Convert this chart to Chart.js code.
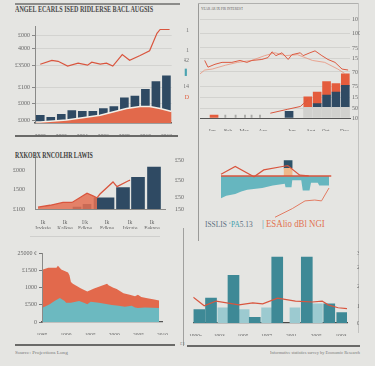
<!DOCTYPE html>
<html lang="en">
<head>
  <meta charset="UTF-8" />
  <meta name="viewport" content="width=device-width, initial-scale=1.0" />
  <title>Economic Overview</title>
  <script src="https://cdn.jsdelivr.net/npm/chart.js"></script>
  <style>
    body { margin: 0; background: #e5e5e2; }
    .page { position: relative; width: 375px; height: 366px; overflow: hidden; font-family: 'Liberation Serif', serif; }
    .box { position: absolute; }
    .ln { position: absolute; }
    .txt { position: absolute; white-space: nowrap; display: inline-block; transform-origin: 0 0; line-height: 1; }
  </style>
</head>
<body>
<div class="page">
  <!-- rules and frames -->
  <div class="ln" style="left:15px;top:3px;width:165px;height:1.5px;background:#8c8c8a"></div>
  <div class="ln" style="left:15px;top:135px;width:163px;height:1.5px;background:#6a6a68"></div>
  <div class="ln" style="left:198px;top:3px;width:1px;height:238px;background:#9a9a98"></div>
  <div class="ln" style="left:198px;top:3px;width:160px;height:1px;background:#b0b0ae"></div>
  <div class="ln" style="left:358px;top:3px;width:1px;height:330px;background:#c2c2c0"></div>
  <div class="ln" style="left:30px;top:236px;width:130px;height:1px;background:#cfcfcd"></div>
  <div class="ln" style="left:183px;top:228px;width:1px;height:118px;background:#a0a09e"></div>
  <div class="ln" style="left:15px;top:344px;width:160px;height:1.5px;background:#6a6a68"></div>
  <div class="ln" style="left:187px;top:345px;width:173px;height:1.5px;background:#6a6a68"></div>

  <!-- titles and captions -->
  <div class="txt" data-w="138" style="left:15px;top:6px;font-weight:bold;font-size:8px;color:#4b4b4b">ANGEL ECARLS ISED RIDLERSE BACL AUGSIS</div>
  <div class="txt" data-w="42" style="left:201px;top:6px;font-size:5px;color:#666">YEAR AR IX PIR INTEREST</div>
  <div class="txt" data-w="78" style="left:15px;top:152px;font-weight:bold;font-size:8px;color:#3e3e3e">RXKOBX RNCOLHR LAWIS</div>
  <div class="txt" data-w="48" style="left:205px;top:221px;font-size:8px;color:#5b6e80">ISSLIS <span style="color:#3fa0ad">‘PA</span>5.13</div>
  <div class="txt" data-w="63" style="left:262px;top:219px;font-size:10.5px;color:#e2714f"><span style="color:#3f98a6">|</span> ESAlio dBl NGI</div>
  <div class="txt" data-w="53" style="left:15px;top:350px;font-size:5px;color:#777">Source: Projections Long</div>
  <div class="txt" data-w="90" style="left:270px;top:350px;font-size:5px;color:#777">Informative statistics survey by Economic Research</div>
  <div class="txt" style="left:180px;top:341px;font-size:5px;color:#777">£1</div>

  <div class="box" style="left:12px;top:21px;width:162px;height:115px"><canvas id="c1"></canvas></div>
  <div class="box" style="left:184px;top:3px;width:176px;height:128px"><canvas id="c2"></canvas></div>
  <div class="box" style="left:12px;top:153px;width:173px;height:76px"><canvas id="c3"></canvas></div>
  <div class="box" style="left:192px;top:148px;width:168px;height:80px"><canvas id="c4"></canvas></div>
  <div class="box" style="left:12px;top:248px;width:158px;height:87px"><canvas id="c5"></canvas></div>
  <div class="box" style="left:187px;top:243px;width:172px;height:93px"><canvas id="c6"></canvas></div>
</div>

<script>
  // ---- panel 1: yearly bars, share area, index line
  const p1Years = [2000, 2001, 2002, 2003, 2004, 2005, 2006, 2007, 2008, 2009, 2010, 2011, 2012];
  const p1Bars = [8, 6, 9, 13, 12, 12, 15, 17, 26, 28, 35, 43, 49];
  const p1ShareX = [1999.6, 2000, 2002.5, 2005.7, 2008.2, 2009.5, 2010.4, 2011.4, 2012.5];
  const p1Share = [1, 1, 3, 8, 15, 17, 17, 15, 12];
  const p1IndexX = [2000, 2001.1, 2001.7, 2002.6, 2003.6, 2004.5, 2004.9, 2005.7, 2006.3, 2006.9, 2007.8, 2008.5, 2009.5, 2010.4, 2011.1, 2011.4, 2012.3];
  const p1Index = [61, 65, 64, 59, 62, 60, 63, 61, 62, 59, 71, 65, 70, 75, 93, 97, 97];
  const p1XTicks = [2000, 2002, 2004, 2006, 2008, 2010, 2012];
  const p1XText = ['2000', '2002', '2004', '2006', '2008', '2010', '2012'];
  const p1YTicks = [3, 20, 37, 60, 77, 91];
  const p1YText = ['£000', '£000', '£100', '£3500', '4000', '£000'];

  // ---- panel 2: stacked bars by period, two rate lines
  const p2GrayX = [11, 12, 13, 14, 15];
  const p2Gray = [11, 11, 11, 11, 11];
  const p2MarkX = [2.2, 3.3, 4.3, 5, 5.9];
  const p2Mark = [3, 3, 3, 3, 3];
  const p2NavyX = [9, 12, 13, 14, 15];
  const p2Navy = [7, 4, 13, 16, 23];
  const p2OrangeX = [1, 11, 12, 13, 14, 15];
  const p2Orange = [3, 11, 12, 14, 9, 12];
  const p2RateAX = [0, 0.35, 1.1, 1.85, 2.9, 3.77, 4.5, 5.05, 6.1, 6.75, 7.18, 7.6, 8.25, 8.9, 9.3, 10.2, 10.5, 11.23, 11.77, 12.5, 13.15, 13.9, 14.65, 15.3];
  const p2RateA = [60, 53, 56, 58, 58, 60, 58, 60, 61, 63, 69, 65, 68, 61, 66, 68, 65, 68, 70, 65, 61, 58, 51, 50];
  const p2RateBX = [-0.5, 0, 0.8, 2.2, 3.5, 5, 6.4, 7.5, 8.6, 9.9, 11.5, 12.8, 14.2, 15];
  const p2RateB = [46, 50, 51, 55, 58, 60, 65, 68, 65, 66, 60, 58, 51, 46];
  const p2TrendX = [7, 8.8, 10.2, 11];
  const p2Trend = [5, 9, 12, 19];
  const p2XTicks = [0.8, 2.5, 4.2, 6.2, 9.3, 11.3, 12.9, 14.9];
  const p2XText = ['Jan', 'Feb', 'Mar', 'Apr', 'Jun', 'Aug', 'Oct', 'Dec'];
  const p2YTicks = [0, 10, 21, 33, 48, 62, 73, 88, 103];
  const p2YText = ['10', '50', '15', '75', '70', '15', '75', '100', '10'];
  const p2LeftTicks = [21, 33, 48, 60, 70, 91];
  const p2LeftText = ['D', '14', '▌', '42', '1', '1'];

  // ---- panel 3: growth bars and red trend
  const p3BarX = [8.4, 10.4, 13.8, 17.6, 20.6, 23.8];
  const p3Bars = [2, 5, 12, 23, 34, 45];
  const p3TrendX = [0.6, 3, 5.6, 7.4, 10.4, 11.6, 12.4, 13, 15.6, 16.4, 18.6, 19];
  const p3Trend = [2, 4, 7, 7, 17, 14, 12, 16, 29, 24, 30, 31];
  const p3XTicks = [1.6, 6, 10, 14.4, 19, 23.4];
  const p3XText = [['Ik', 'Iryksje'], ['Ik', 'Kalkse'], ['I/k', 'Edkpe'], ['Ik', 'Edkue'], ['Ik', 'Irkrate'], ['Ik', 'Fekpre']];
  const p3YTicks = [0, 21, 41];
  const p3YText = ['£100', '1500', '£000'];
  const p3RTicks = [0, 12, 31, 52];
  const p3RText = ['150', '£50', '£50', '£50'];

  // ---- panel 4: balance around zero
  const p4BalanceX = [0.6, 2, 4.4, 6, 7.6, 11.6, 14.4, 17.6, 17.8, 19.4, 19.6, 22, 22.4, 24.2, 24.6, 26.4, 26.8, 29.4];
  const p4Balance = [-26, -23, -21, -18, -16, -14, -11, -9, -13, -13, -5, -5, -17, -17, -8, -8, -11, -11];
  const p4UpperX = [0.6, 4.4, 9.4, 12, 17, 18.4, 21.6, 24];
  const p4Upper = [2, 11, -1, 7, 11, 12, 1, 0];
  const p4LowerX = [15, 19.6, 23, 25.6, 27.4, 29.4];
  const p4Lower = [-48, -38, -29, -28, -29, -14];
  const p4PeakX = [18.5];
  const p4PeakLow = [9];
  const p4PeakHigh = [9];
  const p4RTicks = [-19, 0, 17];
  const p4RText = ['15', '20', '10'];
  const p4LTicks = [-37, -20, 1];
  const p4LText = ['1', '1', '1'];

  // ---- panel 5: total and base areas by year
  const p5TotalX = [1985.2, 1986.3, 1988, 1988.3, 1989, 1990.4, 1990.7, 1991, 1991.4, 1993.1, 1994.4, 1995.8, 1996.8, 1998.5, 1998.8, 1999.8, 2000.5, 2001.9, 2003.2, 2004.3, 2004.9, 2005.6, 2006.6, 2008.3, 2009.3];
  const p5Total = [1536, 1583, 1583, 1647, 1536, 1444, 1370, 1167, 1119, 981, 889, 981, 1028, 1119, 1075, 1000, 964, 842, 797, 750, 797, 731, 703, 658, 631];
  const p5BaseX = [1985.2, 1986.6, 1987.6, 1988.7, 1989.7, 1990, 1991, 1992.7, 1993.7, 1994.4, 1995.1, 1996.8, 1999.5, 2000.9, 2002.2, 2003.6, 2004.3, 2004.9, 2006.3, 2009.3];
  const p5Base = [425, 519, 611, 703, 611, 564, 564, 611, 564, 519, 592, 564, 500, 472, 444, 472, 425, 408, 425, 408];
  const p5XTicks = [1985, 1990, 1995, 2000, 2005, 2010];
  const p5XText = ['1985', '1990', '1995', '2000', '2005', '2010'];
  const p5YTicks = [0, 500, 1000, 1500, 2000];
  const p5YText = ['0', '£500', '1000', '£1500', '25000 ¢'];

  // ---- panel 6: dark and light bars, red average
  const p6DarkX = [0, 1, 2.9, 4.7, 6.6, 9.1, 11, 12.1];
  const p6Dark = [14, 26, 50, 6, 69, 69, 20, 11];
  const p6LightX = [2, 3.8, 5.7, 8.1, 10];
  const p6Light = [16, 14, 16, 16, 20];
  const p6AvgX = [-0.5, 0.42, 1.43, 3.36, 4.53, 5.37, 6.63, 8.14, 9.57, 10.4, 10.9, 11.75, 12.5];
  const p6Avg = [27, 18, 23, 19, 21, 20, 26, 23, 22, 23, 19, 16, 15];
  const p6XTicks = [-0.3, 1.7, 3.7, 5.7, 7.8, 9.9, 12];
  const p6XText = ['1990s', '1993', '1995', '1997', '2001', '2005', '1993'];
  const p6YTicks = [0, 17, 38, 58, 73];
  const p6YText = ['00', '10', '20', '25', '30'];

  const navy = '#2f4a63', red = '#d9553e', orange = '#e2694b', teal = '#66b6bf';

  Chart.defaults.font.family = "'Liberation Serif', serif";
  Chart.defaults.font.size = 6;
  Chart.defaults.color = '#666';

  const pts = (xs, ys) => xs.map((x, i) => ({ x: x, y: ys[i] }));

  function xAxis(min, max, pos, text, h, extra) {
    return Object.assign({
      type: 'linear', min: min, max: max, offset: false, bounds: 'data',
      grid: { display: false, offset: false },
      border: { display: true, color: '#6e6e6c' },
      afterBuildTicks: s => { s.ticks = pos.map(v => ({ value: v })); },
      afterFit: s => { s.height = h; },
      ticks: { callback: (v, i) => text[i], autoSkip: false, maxRotation: 0, minRotation: 0, padding: 2, font: { size: 5.5 } }
    }, extra || {});
  }

  function yAxis(min, max, pos, text, w, extra) {
    return Object.assign({
      type: 'linear', min: min, max: max, bounds: 'data', stacked: true,
      grid: { display: false },
      border: { display: false },
      afterBuildTicks: s => { s.ticks = pos.map(v => ({ value: v })); },
      afterFit: s => { s.width = w; },
      ticks: { callback: (v, i) => text[i], autoSkip: false, padding: 2 }
    }, extra || {});
  }

  function hidden(min, max) {
    return { type: 'linear', display: false, min: min, max: max, bounds: 'data' };
  }

  // lower order sits lower in a stack and is drawn later
  function bars(data, color, thick, order) {
    return { type: 'bar', data: data, backgroundColor: color, barThickness: thick, stack: 's', order: order };
  }

  function line(data, color, width, order, more) {
    return Object.assign({
      type: 'line', data: data, yAxisID: 'yl', borderColor: color, borderWidth: width,
      pointRadius: 0, fill: false, tension: 0, order: order
    }, more || {});
  }

  function make(id, datasets, scales, pad) {
    return new Chart(document.getElementById(id), {
      type: 'bar',
      data: { datasets: datasets },
      options: {
        responsive: true, maintainAspectRatio: false, animation: false,
        layout: { padding: pad },
        plugins: { legend: { display: false }, tooltip: { enabled: false } },
        scales: scales
      }
    });
  }

  // Panel 1
  make('c1', [
    bars(pts(p1Years, p1Bars), navy, 8, 3),
    line(pts(p1ShareX, p1Share), '#f4f0e8', 1.5, 2, { fill: 'origin', backgroundColor: orange }),
    line(pts(p1IndexX, p1Index), red, 1.2, 1)
  ], {
    x: xAxis(1999.5, 2012.5, p1XTicks, p1XText, 13, { border: { display: true, color: '#555', width: 1.5 } }),
    y: yAxis(0, 100, p1YTicks, p1YText, 23, {
      grid: { display: true, color: '#d3d3d0', tickLength: 3, tickColor: '#888' },
      border: { display: true, color: '#8a8a88' }
    }),
    yl: hidden(0, 100)
  }, { top: 2, right: 2, left: 0, bottom: 0 });

  // Panel 2
  const p2LeftColors = ['#e0603f', '#777', '#4aa3b0', '#777', '#777', '#777'];
  make('c2', [
    bars(pts(p2GrayX, p2Gray), '#d1d1ce', 8.5, 3),
    bars(pts(p2MarkX, p2Mark), '#a9a9a6', 1.2, 3),
    bars(pts(p2NavyX, p2Navy), navy, 8, 4),
    bars(pts(p2OrangeX, p2Orange), '#e45c3d', 8, 5),
    line(pts(p2RateBX, p2RateB), '#e8937c', 0.8, 2),
    line(pts(p2RateAX, p2RateA), '#dc5a41', 1, 1),
    line(pts(p2TrendX, p2Trend), '#d9573f', 1, 1)
  ], {
    x: xAxis(-0.5, 15.5, p2XTicks, p2XText, 13, { border: { display: true, color: '#555', width: 1 } }),
    y: yAxis(0, 113, p2YTicks, p2YText, 10, {
      position: 'right',
      grid: { display: true, color: '#d2d2cf', drawTicks: false }
    }),
    yleft: yAxis(0, 113, p2LeftTicks, p2LeftText, 16, {
      position: 'left', stacked: false,
      ticks: { callback: (v, i) => p2LeftText[i], color: c => p2LeftColors[c.index], autoSkip: false, padding: 3 }
    }),
    yl: hidden(0, 113)
  }, { top: 2, right: 0, left: 0, bottom: 0 });

  // Panel 3
  make('c3', [
    { type: 'bar', data: pts(p3BarX.slice(0, 2), p3Bars.slice(0, 2)), backgroundColor: navy, barThickness: 8, stack: 's', order: 3 },
    { type: 'bar', data: pts(p3BarX.slice(2, 3), p3Bars.slice(2, 3)), backgroundColor: navy, barThickness: 20, stack: 's', order: 3 },
    { type: 'bar', data: pts(p3BarX.slice(3), p3Bars.slice(3)), backgroundColor: navy, barThickness: 13, stack: 's', order: 3 },
    line(pts(p3TrendX.slice(0, 7), p3Trend.slice(0, 7)), 'rgba(0,0,0,0)', 0, 2, { fill: 'origin', backgroundColor: 'rgba(228,112,82,0.85)' }),
    line(pts(p3TrendX, p3Trend), red, 1.3, 1)
  ], {
    x: xAxis(0, 26, p3XTicks, p3XText, 20, { border: { display: true, color: '#8a8a88' } }),
    y: yAxis(0, 54, p3YTicks, p3YText, 23, { border: { display: true, color: '#8a8a88' } }),
    y2: yAxis(0, 54, p3RTicks, p3RText, 20, { position: 'right', stacked: false }),
    yl: hidden(0, 54)
  }, { top: 2, right: 0, left: 0, bottom: 0 });

  // Panel 4
  const p4RColors = ['#777', red, '#777'];
  make('c4', [
    line(pts(p4BalanceX, p4Balance), 'rgba(0,0,0,0)', 0, 6, { fill: 'origin', backgroundColor: teal }),
    bars(pts(p4PeakX, p4PeakLow), '#f0b88a', 8, 3),
    bars(pts(p4PeakX, p4PeakHigh), '#2c5369', 8, 4),
    line([{ x: 0.6, y: 0 }, { x: 30, y: 0 }], red, 1.5, 2),
    line(pts(p4UpperX, p4Upper), red, 1.2, 1),
    line(pts(p4LowerX, p4Lower), '#e27b62', 1, 1)
  ], {
    x: hidden(0, 30),
    y: yAxis(-54, 26, p4RTicks, p4RText, 10, {
      position: 'right',
      ticks: { callback: (v, i) => p4RText[i], color: c => p4RColors[c.index], autoSkip: false, padding: 2 }
    }),
    yleft: yAxis(-54, 26, p4LTicks, p4LText, 8, { position: 'left', stacked: false }),
    yl: hidden(-54, 26)
  }, { top: 0, right: 0, left: 0, bottom: 0 });

  // Panel 5
  make('c5', [
    line(pts(p5TotalX, p5Total), 'rgba(0,0,0,0)', 0, 2, { yAxisID: 'y', fill: 'origin', backgroundColor: '#e2694c' }),
    line(pts(p5BaseX, p5Base), 'rgba(0,0,0,0)', 0, 1, { yAxisID: 'y', fill: 'origin', backgroundColor: '#6cb9c0' })
  ], {
    x: xAxis(1985, 2010, p5XTicks, p5XText, 13, { border: { display: true, color: '#555', width: 1.2 } }),
    y: yAxis(0, 2000, p5YTicks, p5YText, 30, {
      stacked: false,
      grid: { display: true, drawOnChartArea: false, tickLength: 3, tickColor: '#777' },
      border: { display: true, color: '#8a8a88' }
    })
  }, { top: 2, right: 5, left: 0, bottom: 0 });

  // Panel 6
  make('c6', [
    bars(pts(p6DarkX, p6Dark), '#3e8996', 11, 3),
    bars(pts(p6LightX, p6Light), '#9ccad0', 10, 3),
    line(pts(p6AvgX, p6Avg), '#d9553e', 1.2, 1)
  ], {
    x: xAxis(-0.5, 12.5, p6XTicks, p6XText, 13, { border: { display: true, color: '#4a4a48', width: 1.2 } }),
    y: yAxis(0, 78, p6YTicks, p6YText, 12, { position: 'right' }),
    yl: hidden(0, 78)
  }, { top: 2, right: 0, left: 5, bottom: 0 });

  // squeeze the headings to the widths they take in the layout
  document.querySelectorAll('.txt[data-w]').forEach(el => {
    el.style.transform = 'scaleX(' + (+el.dataset.w / el.offsetWidth) + ')';
  });
</script>
</body>
</html>
